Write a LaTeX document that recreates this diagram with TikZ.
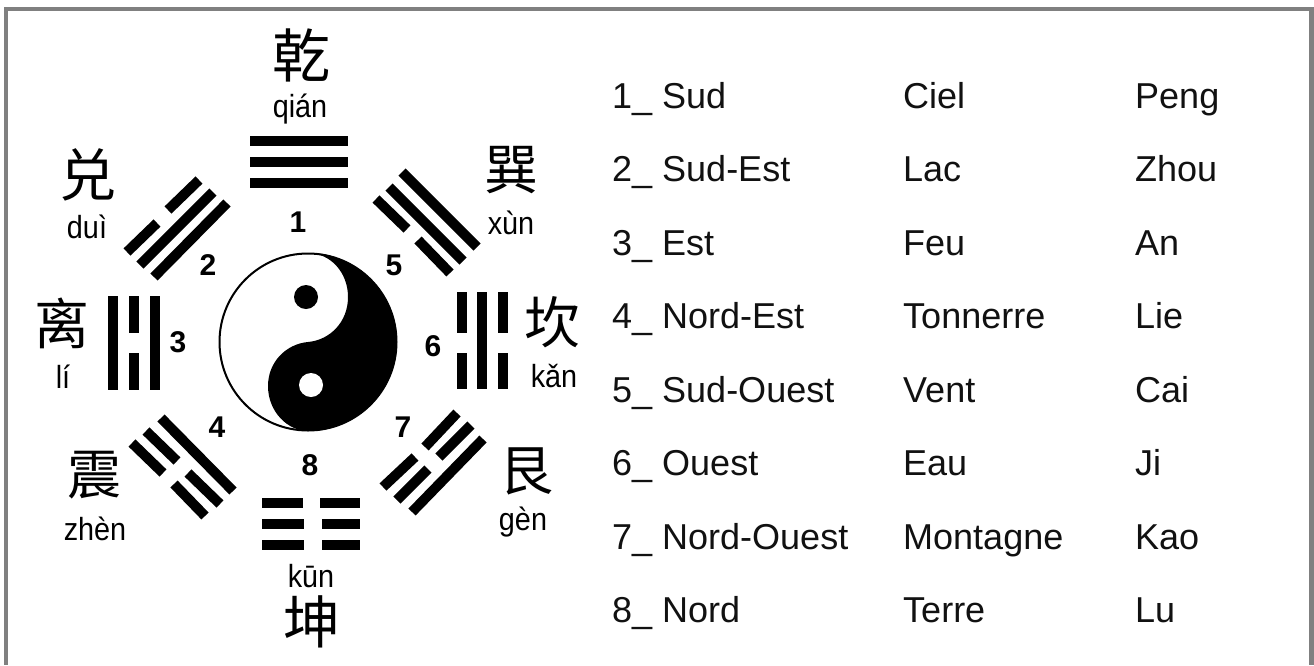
\documentclass[tikz,border=0pt]{standalone}
\usepackage{fontspec}
\setmainfont{Liberation Sans}
\newfontfamily\cjk{Noto Sans CJK SC}
\newfontfamily\pyfont[FakeStretch=0.9]{Liberation Sans}
\definecolor{framegray}{HTML}{808080}
\definecolor{tabletext}{HTML}{111111}
\tikzset{
  bar/.style={line width=10pt,line cap=butt,black},
  hanzi/.style={inner sep=0pt,font=\cjk\fontsize{#1}{#1}\selectfont},
  pinyin/.style={anchor=base,inner sep=0pt,font=\pyfont\fontsize{32}{32}\selectfont},
  num/.style={inner sep=0pt,font=\bfseries\fontsize{30}{30}\selectfont},
  cell/.style={anchor=base west,inner sep=0pt,text=tabletext,font=\fontsize{36}{36}\selectfont}
}
\begin{document}
\begin{tikzpicture}[x=1pt,y=-1pt]
\useasboundingbox (0,0) rectangle (1314,665);
\fill[white] (0,0) rectangle (1314,665);
% frame
\fill[framegray] (4,7) rectangle (1314,11);
\fill[framegray] (4,7) rectangle (8,665);
\fill[framegray] (1309,7) rectangle (1314,665);
% trigram 1
\draw[bar] (250,141)--(348,141);
\draw[bar] (250,162)--(348,162);
\draw[bar] (250,183)--(348,183);
% trigram 8
\draw[bar] (262,503)--(303,503); \draw[bar] (320,503)--(360,503);
\draw[bar] (262,524)--(304,524); \draw[bar] (322,524)--(360,524);
\draw[bar] (262,545)--(304,545); \draw[bar] (322,545)--(360,545);
% trigram 3
\draw[bar] (113,296)--(113,390);
\draw[bar] (134,296)--(134,333); \draw[bar] (134,353)--(134,390);
\draw[bar] (155,296)--(155,390);
% trigram 6
\draw[bar] (462,292)--(462,333); \draw[bar] (462,353)--(462,389);
\draw[bar] (482,292)--(482,389);
\draw[bar] (503,292)--(503,333); \draw[bar] (503,353)--(503,389);
% trigram 2
\draw[bar] (154,277)--(227,203);
\draw[bar] (140,265)--(213,192);
\draw[bar] (127,252)--(157,223); \draw[bar] (168,210)--(199,180);
% trigram 5
\draw[bar] (402,172)--(477,247);
\draw[bar] (389,187)--(463,261);
\draw[bar] (376,199)--(407,229); \draw[bar] (418,240)--(450,273);
% trigram 4
\draw[bar] (161,418)--(233,491);
\draw[bar] (146,431)--(177,461); \draw[bar] (188,473)--(220,504);
\draw[bar] (132,443)--(163,473); \draw[bar] (174,484)--(205,516);
% trigram 7
\draw[bar] (483,439)--(412,512);
\draw[bar] (471,425)--(439,457); \draw[bar] (428,469)--(397,500);
\draw[bar] (457,413)--(425,447); \draw[bar] (415,457)--(383,487);
% yin-yang
\draw[black,line width=2pt] (308,342) circle (88.5);
\fill[black] (308,253)
  .. controls (357,253) and (397,293) .. (397,342)
  .. controls (397,391) and (357,431) .. (308,431)
  .. controls (288,431) and (268,412) .. (268,386)
  .. controls (268,362) and (286,344) .. (308,342)
  .. controls (330,340) and (348,322) .. (348,297)
  .. controls (348,272) and (330,253) .. (308,253) -- cycle;
\fill[black] (306,297) circle (12);
\fill[white] (311,385) circle (12);
% numbers
\node[num] (n1) at (298,222) {1};
\node[num] (n2) at (208,265) {2};
\node[num] (n3) at (178,342) {3};
\node[num] (n4) at (217,427) {4};
\node[num] (n5) at (394,265) {5};
\node[num] (n6) at (433,346) {6};
\node[num] (n7) at (403,427) {7};
\node[num] (n8) at (310,465) {8};
% hanzi
\node[hanzi=58] (h1) at (301,55) {乾};
\node[hanzi=54] (h5) at (511,170) {巽};
\node[hanzi=57] (h2) at (88,175) {兑};
\node[hanzi=55] (h3) at (62,323) {离};
\node[hanzi=56] (h6) at (552,322) {坎};
\node[hanzi=54] (h4) at (94,475) {震};
\node[hanzi=54] (h7) at (526,471) {艮};
\node[hanzi=57] (h8) at (312,622) {坤};
% pinyin
\node[pinyin] (p1) at (300,117) {qián};
\node[pinyin] (p5) at (511,234) {xùn};
\node[pinyin] (p2) at (87,238) {duì};
\node[pinyin] (p3) at (63,388) {lí};
\node[pinyin] (p6) at (554,387) {kǎn};
\node[pinyin] (p4) at (95,540) {zhèn};
\node[pinyin] (p7) at (523,530) {gèn};
\node[pinyin] (p8) at (311,587) {kūn};
% table
\node[cell] (a1) at (612,108) {1\_ Sud};
\node[cell] (b1) at (903,108) {Ciel};
\node[cell] (c1) at (1135,108) {Peng};
\node[cell] (a2) at (612,181) {2\_ Sud-Est};
\node[cell] (b2) at (903,181) {Lac};
\node[cell] (c2) at (1135,181) {Zhou};
\node[cell] (a3) at (612,255) {3\_ Est};
\node[cell] (b3) at (903,255) {Feu};
\node[cell] (c3) at (1135,255) {An};
\node[cell] (a4) at (612,328) {4\_ Nord-Est};
\node[cell] (b4) at (903,328) {Tonnerre};
\node[cell] (c4) at (1135,328) {Lie};
\node[cell] (a5) at (612,402) {5\_ Sud-Ouest};
\node[cell] (b5) at (903,402) {Vent};
\node[cell] (c5) at (1135,402) {Cai};
\node[cell] (a6) at (612,475) {6\_ Ouest};
\node[cell] (b6) at (903,475) {Eau};
\node[cell] (c6) at (1135,475) {Ji};
\node[cell] (a7) at (612,549) {7\_ Nord-Ouest};
\node[cell] (b7) at (903,549) {Montagne};
\node[cell] (c7) at (1135,549) {Kao};
\node[cell] (a8) at (612,622) {8\_ Nord};
\node[cell] (b8) at (903,622) {Terre};
\node[cell] (c8) at (1135,622) {Lu};
\end{tikzpicture}
\end{document}
